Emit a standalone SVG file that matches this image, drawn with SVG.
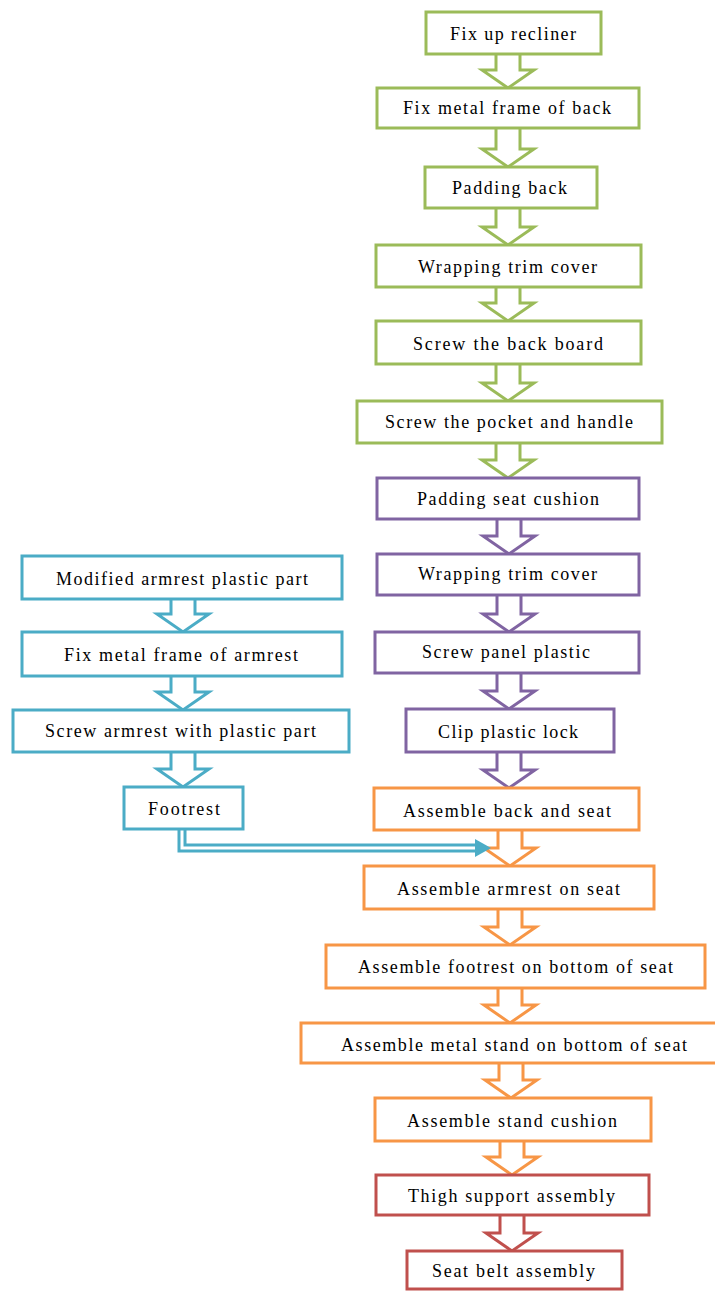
<svg xmlns="http://www.w3.org/2000/svg" width="715" height="1292" viewBox="0 0 715 1292">
<style>
  .box{fill:#fff;stroke-width:3}
  .arr{fill:#fff;stroke-width:3;stroke-linejoin:miter}
  .g{stroke:#9BBB59}.p{stroke:#8064A2}.o{stroke:#F79646}.r{stroke:#C0504D}.b{stroke:#4BACC6}
  text{font-family:'Liberation Serif','DejaVu Serif',serif;font-size:18px;fill:#000}
</style>
<rect width="715" height="1292" fill="#fff"/>
<g id="connectors">
  <path class="arr g" d="M496,54 V70 H482 L508,88 L534,70 H520 V54"/>
  <path class="arr g" d="M496,128 V149 H482 L508,167 L534,149 H520 V128"/>
  <path class="arr g" d="M496,208 V227 H482 L508,245 L534,227 H520 V208"/>
  <path class="arr g" d="M496,287 V303 H482 L508,321 L534,303 H520 V287"/>
  <path class="arr g" d="M496,364 V383 H482 L508,401 L534,383 H520 V364"/>
  <path class="arr g" d="M496,443 V460 H482 L508,478 L534,460 H520 V443"/>
  <path class="arr p" d="M497,519 V536 H483 L509,554 L535,536 H521 V519"/>
  <path class="arr p" d="M497,595 V614 H483 L509,632 L535,614 H521 V595"/>
  <path class="arr p" d="M497,673 V691 H483 L509,709 L535,691 H521 V673"/>
  <path class="arr p" d="M497,752 V770 H483 L509,788 L535,770 H521 V752"/>
  <path class="arr o" d="M498,830 V848 H484 L510,866 L536,848 H522 V830"/>
  <path class="arr o" d="M498,909 V927 H484 L510,945 L536,927 H522 V909"/>
  <path class="arr o" d="M498,988 V1005 H484 L510,1023 L536,1005 H522 V988"/>
  <path class="arr o" d="M499,1063 V1080 H485 L511,1098 L537,1080 H523 V1063"/>
  <path class="arr o" d="M500,1141 V1157 H486 L512,1175 L538,1157 H524 V1141"/>
  <path class="arr r" d="M500,1215 V1233 H486 L512,1251 L538,1233 H524 V1215"/>
  <path class="arr b" d="M171,599 V614 H157 L183,632 L209,614 H195 V599"/>
  <path class="arr b" d="M171,676 V692 H157 L183,710 L209,692 H195 V676"/>
  <path class="arr b" d="M171,752 V769 H157 L183,787 L209,769 H195 V752"/>
  <path d="M182,829 V848 H477" fill="none" stroke="#4BACC6" stroke-width="9"/>
  <path d="M182,829 V848 H478" fill="none" stroke="#fff" stroke-width="3"/>
  <path d="M475,839 L491,848 L475,857 Z" fill="#4BACC6"/>
</g>
<g id="n-fix-up-recliner"><rect class="box g" x="426" y="12" width="175" height="42"/><text x="450" y="40" textLength="126" lengthAdjust="spacing">Fix up recliner</text></g>
<g id="n-fix-metal-frame-back"><rect class="box g" x="377" y="88" width="262" height="40"/><text x="403" y="114" textLength="208" lengthAdjust="spacing">Fix metal frame of back</text></g>
<g id="n-padding-back"><rect class="box g" x="425" y="167" width="172" height="41"/><text x="452" y="194" textLength="115" lengthAdjust="spacing">Padding back</text></g>
<g id="n-wrapping-trim-cover-1"><rect class="box g" x="376" y="245" width="265" height="42"/><text x="418" y="273" textLength="179" lengthAdjust="spacing">Wrapping trim cover</text></g>
<g id="n-screw-back-board"><rect class="box g" x="376" y="321" width="265" height="43"/><text x="413" y="350" textLength="190" lengthAdjust="spacing">Screw the back board</text></g>
<g id="n-screw-pocket-handle"><rect class="box g" x="357" y="401" width="305" height="42"/><text x="385" y="428" textLength="248" lengthAdjust="spacing">Screw the pocket and handle</text></g>
<g id="n-padding-seat-cushion"><rect class="box p" x="377" y="478" width="262" height="41"/><text x="417" y="505" textLength="182" lengthAdjust="spacing">Padding seat cushion</text></g>
<g id="n-wrapping-trim-cover-2"><rect class="box p" x="377" y="554" width="262" height="41"/><text x="418" y="580" textLength="179" lengthAdjust="spacing">Wrapping trim cover</text></g>
<g id="n-screw-panel-plastic"><rect class="box p" x="375" y="632" width="264" height="41"/><text x="422" y="658" textLength="168" lengthAdjust="spacing">Screw panel plastic</text></g>
<g id="n-clip-plastic-lock"><rect class="box p" x="406" y="709" width="208" height="43"/><text x="438" y="738" textLength="140" lengthAdjust="spacing">Clip plastic lock</text></g>
<g id="n-assemble-back-seat"><rect class="box o" x="374" y="788" width="265" height="42"/><text x="403" y="817" textLength="208" lengthAdjust="spacing">Assemble back and seat</text></g>
<g id="n-assemble-armrest"><rect class="box o" x="364" y="866" width="290" height="43"/><text x="397" y="895" textLength="223" lengthAdjust="spacing">Assemble armrest on seat</text></g>
<g id="n-assemble-footrest"><rect class="box o" x="326" y="945" width="379" height="43"/><text x="358" y="973" textLength="315" lengthAdjust="spacing">Assemble footrest on bottom of seat</text></g>
<g id="n-assemble-metal-stand"><rect class="box o" x="301" y="1023" width="420" height="40"/><text x="341" y="1051" textLength="346" lengthAdjust="spacing">Assemble metal stand on bottom of seat</text></g>
<g id="n-assemble-stand-cushion"><rect class="box o" x="375" y="1098" width="276" height="43"/><text x="407" y="1127" textLength="210" lengthAdjust="spacing">Assemble stand cushion</text></g>
<g id="n-thigh-support"><rect class="box r" x="376" y="1175" width="273" height="40"/><text x="408" y="1202" textLength="207" lengthAdjust="spacing">Thigh support assembly</text></g>
<g id="n-seat-belt"><rect class="box r" x="407" y="1251" width="215" height="38"/><text x="432" y="1277" textLength="163" lengthAdjust="spacing">Seat belt assembly</text></g>
<g id="n-modified-armrest"><rect class="box b" x="22" y="556" width="320" height="43"/><text x="56" y="585" textLength="252" lengthAdjust="spacing">Modified armrest plastic part</text></g>
<g id="n-fix-metal-frame-armrest"><rect class="box b" x="22" y="632" width="320" height="44"/><text x="64" y="661" textLength="234" lengthAdjust="spacing">Fix metal frame of armrest</text></g>
<g id="n-screw-armrest"><rect class="box b" x="13" y="710" width="336" height="42"/><text x="45" y="737" textLength="271" lengthAdjust="spacing">Screw armrest with plastic part</text></g>
<g id="n-footrest"><rect class="box b" x="124" y="787" width="119" height="42"/><text x="148" y="815" textLength="72" lengthAdjust="spacing">Footrest</text></g>
</svg>
